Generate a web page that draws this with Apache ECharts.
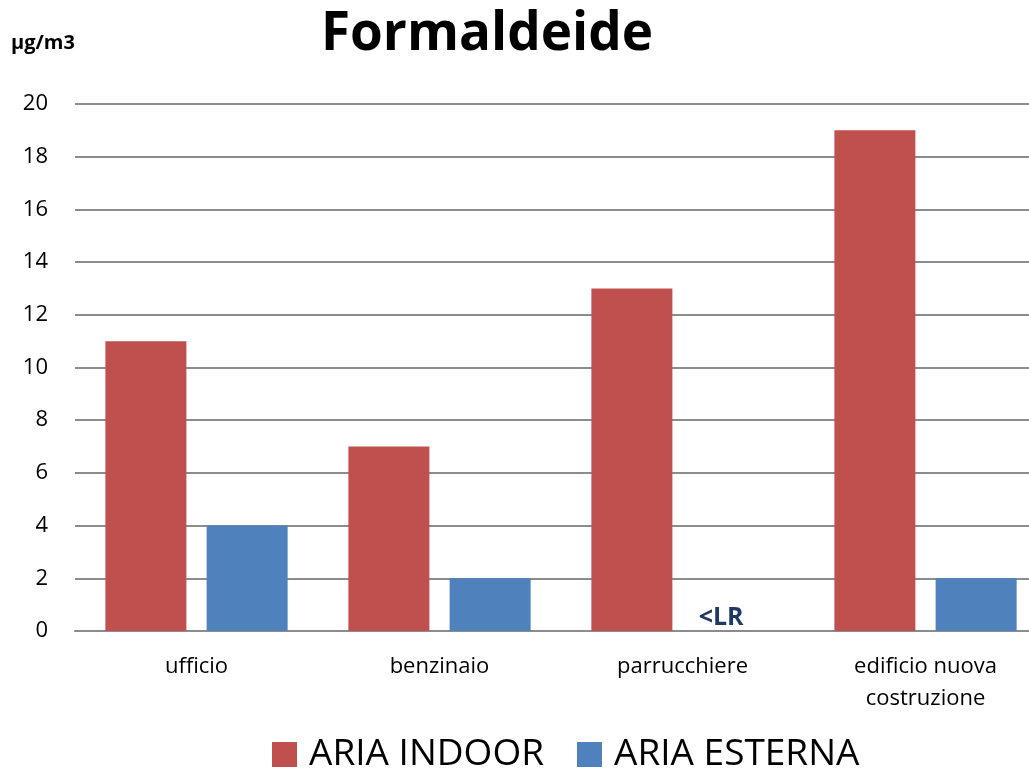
<!DOCTYPE html>
<html>
<head>
<meta charset="utf-8">
<script src="https://cdn.jsdelivr.net/npm/echarts@6/dist/echarts.min.js"></script>
<style>
  html, body { margin: 0; padding: 0; background: #fff; }
  #chart { width: 1029px; height: 773px; }
</style>
</head>
<body>
<div id="chart"></div>
<script>
// Formaldehyde concentrations, indoor vs outdoor air
const categories = ['ufficio', 'benzinaio', 'parrucchiere', 'edificio nuova\ncostruzione'];
const indoorValues = [11, 7, 13, 19];
const esternaValues = [4, 2, 0, 2];
// Notes shown instead of a value (below detection limit)
const esternaNotes = [null, null, '<LR', null];
const yTicks = [0, 2, 4, 6, 8, 10, 12, 14, 16, 18, 20];

const FONT = '"Open Sans", "DejaVu Sans", sans-serif';
const chart = echarts.init(document.getElementById('chart'), null, { renderer: 'canvas' });

chart.setOption({
  animation: false,
  backgroundColor: '#ffffff',
  title: [
    {
      text: 'Formaldeide',
      left: 482, top: 3, textAlign: 'center',
      textStyle: { fontFamily: FONT, fontSize: 53, fontWeight: 'bold', color: '#000' }
    },
    {
      text: 'μg/m3',
      left: 6, top: 28,
      textStyle: { fontFamily: FONT, fontSize: 20, fontWeight: 'bold', color: '#000' }
    }
  ],
  legend: {
    bottom: -5, left: 267,
    itemWidth: 25, itemHeight: 25, itemGap: 33,
    icon: 'rect',
    textStyle: { fontFamily: FONT, fontSize: 37, color: '#000', padding: [0, 0, 0, 7] },
    data: ['ARIA INDOOR', 'ARIA ESTERNA']
  },
  // the category band runs past the right edge of the canvas
  grid: {
    left: 75, width: 972, top: 104, bottom: 142,
    containLabel: false, outerBoundsMode: 'none'
  },
  xAxis: {
    type: 'category',
    data: categories,
    axisLine: { show: true, lineStyle: { color: '#8c8c8c', width: 2 } },
    axisTick: { show: false },
    axisLabel: { fontFamily: FONT, fontSize: 22, color: '#000', margin: 20, lineHeight: 32 }
  },
  yAxis: {
    type: 'value',
    min: yTicks[0], max: yTicks[yTicks.length - 1], interval: 2,
    axisLine: { show: false },
    axisTick: { show: false },
    axisLabel: { fontFamily: FONT, fontSize: 22, color: '#000', margin: 27 },
    splitLine: { show: true, lineStyle: { color: '#8c8c8c', width: 2 } }
  },
  series: [
    {
      name: 'ARIA INDOOR', type: 'bar',
      data: indoorValues,
      barWidth: 81, barGap: '25%',
      itemStyle: { color: '#C0504D' }
    },
    {
      name: 'ARIA ESTERNA', type: 'bar',
      data: esternaValues,
      barWidth: 81,
      itemStyle: { color: '#4F81BD' },
      label: {
        show: true, position: 'top', distance: 1, offset: [-12, 0],
        fontFamily: FONT, fontSize: 25, fontWeight: 'bold', color: '#1F3864',
        formatter: p => esternaNotes[p.dataIndex] || ''
      }
    }
  ]
});
</script>
</body>
</html>
